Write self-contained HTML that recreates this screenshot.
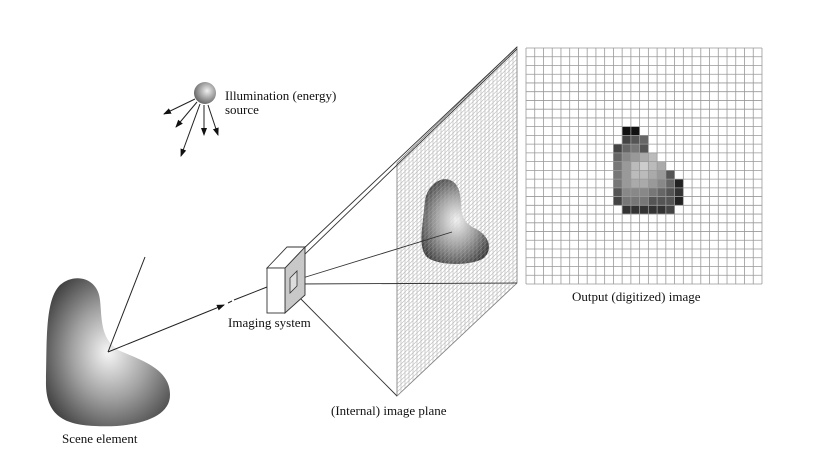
<!DOCTYPE html>
<html><head><meta charset="utf-8"><style>
html,body{margin:0;padding:0;background:#fff;}
svg{display:block}
text{font-family:"Liberation Serif",serif;font-size:13px;fill:#111}
</style></head><body>
<svg width="826" height="464" viewBox="0 0 826 464" xmlns="http://www.w3.org/2000/svg">
<defs>
<radialGradient id="g1" cx="0.5" cy="0.5" r="0.6" fx="0.52" fy="0.48" gradientUnits="objectBoundingBox">
<stop offset="0" stop-color="#f4f4f4"/><stop offset="0.5" stop-color="#9a9a9a"/><stop offset="1" stop-color="#2e2e2e"/></radialGradient>
<radialGradient id="gs" cx="0.55" cy="0.5" r="0.7" fx="0.5" fy="0.5">
<stop offset="0" stop-color="#f6f6f6"/><stop offset="0.45" stop-color="#a0a0a0"/><stop offset="1" stop-color="#2a2a2a"/></radialGradient>
<radialGradient id="gl" cx="0.6" cy="0.4" r="0.7">
<stop offset="0" stop-color="#f0f0f0"/><stop offset="1" stop-color="#555"/></radialGradient>
<marker id="ar" markerWidth="8" markerHeight="8" refX="7" refY="4" orient="auto" markerUnits="userSpaceOnUse"><path d="M0,1 L8,4 L0,7 z" fill="#111"/></marker>
</defs>

<path d="M60,285 C75,272 98,278 100,300 C102,318 100,338 118,350 C140,360 170,368 170,395 C170,420 130,428 95,426 C60,425 45,412 46,380 C47,340 45,300 60,285 Z" fill="url(#gs)"/>
<line x1="108" y1="352" x2="145" y2="257" stroke="#222" stroke-width="1"/>
<line x1="108" y1="352" x2="224" y2="305" stroke="#222" stroke-width="1" marker-end="url(#ar)"/>
<line x1="228" y1="303" x2="232" y2="301" stroke="#222" stroke-width="1"/>
<line x1="234" y1="300" x2="267" y2="287" stroke="#222" stroke-width="1"/>

<circle cx="205" cy="93" r="11" fill="url(#gl)"/>
<g stroke="#222" stroke-width="1" marker-end="url(#ar)">
<line x1="195" y1="99" x2="164" y2="114"/>
<line x1="197" y1="102" x2="176" y2="127"/>
<line x1="200" y1="104" x2="181" y2="156"/>
<line x1="204" y1="105" x2="204" y2="135"/>
<line x1="208" y1="105" x2="218" y2="135"/>
</g>
<text x="225" y="100">Illumination (energy)</text>
<text x="225" y="114">source</text>

<g id="plane" stroke="#b4b4b4" stroke-width="0.6" fill="none"></g>
<polygon points="397,163 517,47 517,283 397,396" fill="none" stroke="#666" stroke-width="0.8"/>
<path d="M432,186 C442,174 458,178 460,195 C462,212 460,220 474,228 C488,234 494,248 484,258 C472,266 440,266 428,258 C418,250 422,230 424,210 C425,198 426,192 432,186 Z" fill="url(#g1)" opacity="0.95"/>
<g id="plane2" stroke="#ccc" stroke-width="0.5" fill="none" opacity="0.5"></g>

<g stroke="#333" stroke-width="0.9" fill="none">
<line x1="300" y1="252" x2="517" y2="47"/>
<line x1="303" y1="256" x2="517" y2="49"/>
<line x1="296" y1="280" x2="452" y2="232"/>
<line x1="296" y1="284" x2="517" y2="283"/>
<line x1="294" y1="292" x2="397" y2="396"/>
</g>

<polygon points="285,268 305,247 305,295 285,313" fill="#c8c8c8" stroke="#333" stroke-width="0.9"/>
<polygon points="267,268 287,247 305,247 285,268" fill="#fff" stroke="#333" stroke-width="0.9"/>
<rect x="267" y="268" width="18" height="45" fill="#fff" stroke="#333" stroke-width="0.9"/>
<polygon points="290,278 297,271 297,286 290,293" fill="#ddd" stroke="#333" stroke-width="0.8"/>
<text x="228" y="327">Imaging system</text>
<text x="331" y="415">(Internal) image plane</text>

<g id="cells"></g>
<g id="grid" stroke="#999" stroke-width="0.8"></g>
<text x="572" y="301">Output (digitized) image</text>
<text x="62" y="443">Scene element</text>
</svg>
<script>
(function(){
var ns="http://www.w3.org/2000/svg";
function L(g,x1,y1,x2,y2){var l=document.createElementNS(ns,"line");l.setAttribute("x1",x1);l.setAttribute("y1",y1);l.setAttribute("x2",x2);l.setAttribute("y2",y2);g.appendChild(l);}
var p=document.getElementById("plane"),p2=document.getElementById("plane2");
function top(x){return 163+(x-397)*(-116/120);} function bot(x){return 396+(x-397)*(-113/120);}
for(var x=397;x<=517;x+=4){L(p,x,top(x),x,bot(x));L(p2,x,top(x),x,bot(x));}
var n=58;for(var i=0;i<=n;i++){var t=i/n;var yl=163+t*(396-163),yr=47+t*(283-47);L(p,397,yl,517,yr);L(p2,397,yl,517,yr);}
var g=document.getElementById("grid"),c=document.getElementById("cells");
var x0=526,y0=48,cs=8.74,N=27;
for(var i=0;i<=N;i++){L(g,x0+i*cs,y0,x0+i*cs,y0+N*cs);L(g,x0,y0+i*cs,x0+N*cs,y0+i*cs);}
var px={
9:{11:"#111",12:"#111"},
10:{11:"#444",12:"#555",13:"#666"},
11:{10:"#444",11:"#666",12:"#777",13:"#555"},
12:{10:"#666",11:"#888",12:"#999",13:"#aaa",14:"#bbb"},
13:{10:"#777",11:"#999",12:"#bbb",13:"#ccc",14:"#bbb",15:"#aaa"},
14:{10:"#777",11:"#999",12:"#bbb",13:"#bbb",14:"#aaa",15:"#999",16:"#555"},
15:{10:"#777",11:"#999",12:"#aaa",13:"#aaa",14:"#999",15:"#888",16:"#666",17:"#222"},
16:{10:"#555",11:"#888",12:"#888",13:"#888",14:"#777",15:"#666",16:"#555",17:"#333"},
17:{10:"#444",11:"#777",12:"#777",13:"#777",14:"#555",15:"#555",16:"#555",17:"#222"},
18:{11:"#333",12:"#333",13:"#333",14:"#333",15:"#333",16:"#444"}};
for(var r in px)for(var k in px[r]){var e=document.createElementNS(ns,"rect");e.setAttribute("x",x0+k*cs);e.setAttribute("y",y0+r*cs);e.setAttribute("width",cs);e.setAttribute("height",cs);e.setAttribute("fill",px[r][k]);c.appendChild(e);}
})();
</script>
</body></html>
